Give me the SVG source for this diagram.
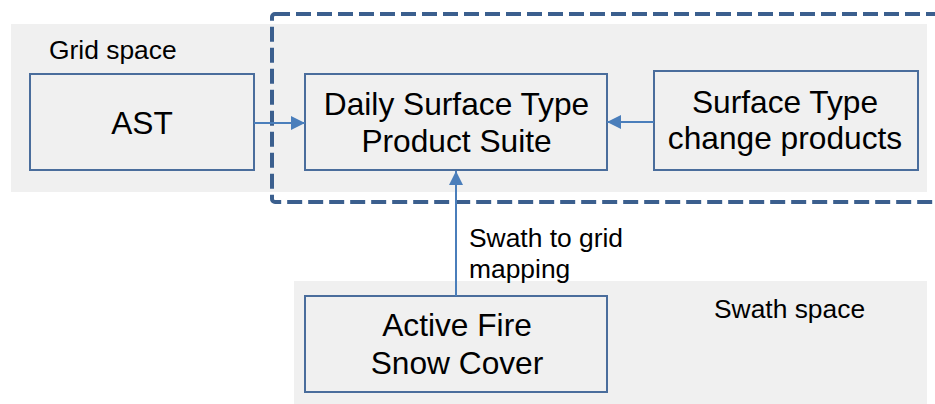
<svg xmlns="http://www.w3.org/2000/svg" width="935" height="404" viewBox="0 0 935 404">
<style>
.bg{fill:#f0f0f0;stroke:none}
.box{fill:#f0f0f0;stroke:#4a6d9c;stroke-width:2}
.t{font-family:"Liberation Sans",Arial,sans-serif;fill:#000}
.big{font-size:31.7px;text-anchor:middle}
.lbl{font-size:26.4px}
.conn{stroke:#4a7ebb;stroke-width:2;fill:none}
.dash{fill:none;stroke:#3b5f8e;stroke-width:4;stroke-dasharray:15 6}
</style>
<defs>
<marker id="ah" viewBox="0 0 14 14" refX="14" refY="7" markerWidth="14" markerHeight="14" markerUnits="userSpaceOnUse" orient="auto">
<path d="M0,0 L14,7 L0,14 z" fill="#4a7ebb"/>
</marker>
</defs>
<g id="regions">
<rect class="bg" x="11" y="24" width="916" height="168"/>
<rect class="bg" x="294" y="281" width="633" height="123"/>
<rect class="dash" x="272" y="14" width="680" height="188" rx="3"/>
<text class="t lbl" x="49" y="59">Grid space</text>
<text class="t lbl" x="714" y="318">Swath space</text>
</g>
<g id="node-ast">
<rect class="box" x="30" y="74" width="224" height="96"/>
<text class="t big" x="142" y="134">AST</text>
</g>
<g id="node-daily">
<rect class="box" x="305" y="74" width="302" height="96"/>
<text class="t big" x="456.5" y="115">Daily Surface Type</text>
<text class="t big" x="456.5" y="152">Product Suite</text>
</g>
<g id="node-change">
<rect class="box" x="654" y="71" width="264" height="99"/>
<text class="t big" x="785" y="113">Surface Type</text>
<text class="t big" x="785" y="149">change products</text>
</g>
<g id="node-swath">
<rect class="box" x="305" y="296" width="302" height="96"/>
<text class="t big" x="457" y="336">Active Fire</text>
<text class="t big" x="457" y="374">Snow Cover</text>
</g>
<g id="connectors">
<line class="conn" x1="254" y1="123" x2="305" y2="123" marker-end="url(#ah)"/>
<line class="conn" x1="654" y1="122" x2="607" y2="122" marker-end="url(#ah)"/>
<line class="conn" x1="456" y1="296" x2="456" y2="171" marker-end="url(#ah)"/>
<text class="t lbl" x="469" y="247">Swath to grid</text>
<text class="t lbl" x="469" y="278">mapping</text>
</g>
</svg>
